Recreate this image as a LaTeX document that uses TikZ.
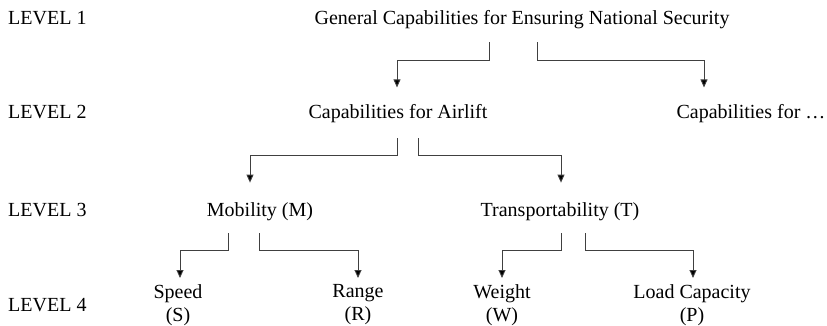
\documentclass[tikz,border=0pt]{standalone}
\usepackage{fontspec}
\setmainfont{Liberation Serif}[Ligatures=TeX]
\usetikzlibrary{arrows.meta}
\tikzset{
  txt/.style={inner sep=0pt,font=\fontsize{20}{23.5}\selectfont},
  item/.style={txt,anchor=base},
  leaf/.style={txt,anchor=north,align=center},
  lvl/.style={txt,anchor=base west},
  link/.style={draw=black!75,line width=0.9pt,-{Triangle[length=8pt,width=7pt,fill=black]}}
}

\begin{document}
\begin{tikzpicture}[x=1pt,y=-1pt]
\useasboundingbox (0,0) rectangle (827,326);
% level captions
\node[lvl] (l1) at (8,25) {LEVEL 1};
\node[lvl] (l2) at (8,119) {LEVEL 2};
\node[lvl] (l3) at (8,216) {LEVEL 3};
\node[lvl] (l4) at (8,311) {LEVEL 4};
% tree
\node[item] (gen) at (522,25) {General Capabilities for Ensuring National Security};
\node[item] (air) at (398,119) {Capabilities for Airlift};
\node[item] (oth) at (751,119) {Capabilities for \dots};
\node[item] (mob) at (260,216) {Mobility (M)};
\node[item] (tra) at (560,216) {Transportability (T)};
\node[leaf] (spd) at (178,284) {Speed\\(S)};
\node[leaf] (rng) at (358,284) {Range\\(R)};
\node[leaf] (wgt) at (502,284) {Weight\\(W)};
\node[leaf] (lod) at (692,284) {Load Capacity\\(P)};
% connectors
\draw[link] ([xshift=-33pt,yshift=-12.7pt]gen.south) -- ++(0,18) -| ([xshift=-1pt,yshift=17.3pt]air.north);
\draw[link] ([xshift=15pt,yshift=-12.7pt]gen.south) -- ++(0,18) -| ([xshift=-47pt,yshift=17.3pt]oth.north);
\draw[link] ([xshift=-1pt,yshift=-14.7pt]air.south) -- ++(0,17) -| ([xshift=-10pt,yshift=19.3pt]mob.north);
\draw[link] ([xshift=20pt,yshift=-14.7pt]air.south) -- ++(0,17) -| ([xshift=1pt,yshift=19.3pt]tra.north);
\draw[link] ([xshift=-32pt,yshift=-12.6pt]mob.south) -- ++(0,17) -| ([xshift=2pt,yshift=6pt]spd.north);
\draw[link] ([xshift=-1pt,yshift=-12.6pt]mob.south) -- ++(0,17) -| ([yshift=6pt]rng.north);
\draw[link] ([xshift=1pt,yshift=-12.6pt]tra.south) -- ++(0,17) -| ([yshift=6pt]wgt.north);
\draw[link] ([xshift=25pt,yshift=-12.6pt]tra.south) -- ++(0,17) -| ([xshift=1pt,yshift=6pt]lod.north);
\end{tikzpicture}
\end{document}
